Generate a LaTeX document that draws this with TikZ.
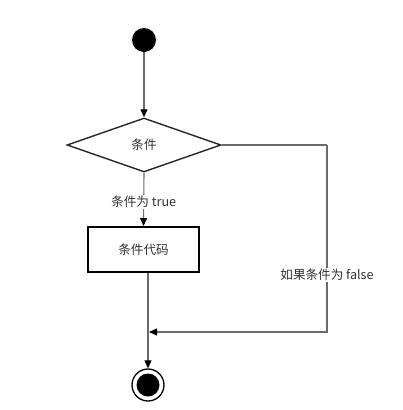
\documentclass[tikz,border=0pt]{standalone}
\usepackage{fontspec}
\newfontfamily\cjk{Noto Sans CJK SC}
\usetikzlibrary{shapes.geometric,arrows.meta}
\definecolor{linegray}{HTML}{6A6A6A}
\definecolor{txtgray}{HTML}{333333}
\tikzset{
  every node/.style={font=\cjk\fontsize{12.6}{15}\selectfont, text=txtgray},
  conn/.style={draw=linegray, line width=1.1pt, -{Triangle[length=8pt,width=7pt,color=black]}},
  plainconn/.style={draw=linegray, line width=1.1pt},
  lbl/.style={fill=white, inner sep=1.5pt},
  decision/.style={diamond, draw=black!85, line width=1.4pt, aspect=2.85, minimum width=154pt, minimum height=54pt, inner sep=0pt},
  codebox/.style={rectangle, draw=black, line width=2pt, minimum width=111pt, minimum height=45pt},
  startdot/.style={circle, fill=black, minimum size=24pt, inner sep=0pt},
  endring/.style={circle, draw=black, line width=1.3pt, minimum size=32pt, inner sep=0pt},
  enddot/.style={circle, fill=black, minimum size=23pt, inner sep=0pt}
}
\begin{document}
\begin{tikzpicture}[x=1pt,y=-1pt]
\useasboundingbox (0,0) rectangle (402,410);
\node[startdot] (start) at (144,40) {};
\node[decision] (cond) at (144,145) {条件};
\node[codebox] (code) at (143.5,249.5) {条件代码};
\node[endring] (endc) at (148,385) {};
\node[enddot] (endin) at (148,385) {};
\coordinate (corner) at (327,145);
\coordinate (merge) at (148,332);

\draw[conn] (start) -- (cond.north);
\draw[conn] (cond.south) -- node[lbl, pos=0.55] (tlabel) {条件为 true} (code.north);
\draw[conn] (code.south -| merge) -- (endc.north);
\draw[plainconn] (cond.east) -- (corner);
\draw[conn] (corner) -- (corner |- merge) -- ([xshift=1pt]merge);
\node[lbl] (flabel) at (327,275) {如果条件为 false};
\end{tikzpicture}
\end{document}
